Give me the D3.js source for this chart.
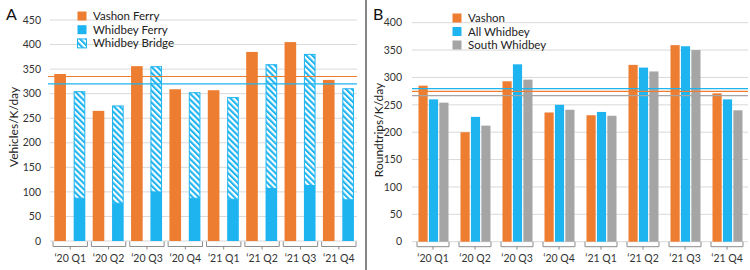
<!DOCTYPE html>
<html>
<head>
<meta charset="utf-8">
<script src="https://cdn.jsdelivr.net/npm/d3@7"></script>
<style>
  body { margin: 0; background: #fff; }
  svg { display: block; font-family: Lato, "Open Sans", sans-serif; }
</style>
</head>
<body>
<div id="graph"></div>
<script>
const width = 750
const height = 270

const quarters = ['‘20 Q1', '‘20 Q2', '‘20 Q3', '‘20 Q4', '‘21 Q1', '‘21 Q2', '‘21 Q3', '‘21 Q4']

// panel A: vehicles / K / day
const vashonFerry = [340, 265, 356, 309, 307, 385, 405, 328]
const whidbeyFerry = [87, 77, 100, 87, 85, 107, 113, 84]
const whidbeyBridge = [218, 199, 256, 216, 208, 253, 268, 227]
const refLinesA = [335, 320]
const ticksA = [0, 50, 100, 150, 200, 250, 300, 350, 400, 450]

// panel B: roundtrips / K / day
const vashon = [285, 200, 293, 236, 231, 323, 359, 271]
const allWhidbey = [260, 228, 324, 250, 237, 318, 357, 260]
const southWhidbey = [254, 212, 296, 241, 230, 311, 350, 240]
const refLinesB = [274.7, 279.5, 266.7]
const ticksB = [0, 50, 100, 150, 200, 250, 300, 350, 400]

const orange = '#ed7d31'
const blue = '#1eb4f0'
const gray = '#a5a5a5'
const grid = '#d9d9d9'

const svg = d3.select('#graph')
  .append('svg')
  .attr('width', width)
  .attr('height', height)

const defs = svg.append('defs')
const hatch = defs.append('pattern')
  .attr('id', 'hatch')
  .attr('patternUnits', 'userSpaceOnUse')
  .attr('width', 4.2)
  .attr('height', 4.2)
  .attr('patternTransform', 'rotate(-45)')
hatch.append('rect').attr('width', 4.2).attr('height', 4.2).attr('fill', '#fff')
hatch.append('rect').attr('width', 2.1).attr('height', 4.2).attr('fill', blue)

// shared bits
const drawGrid = (g, y, ticks, x0, x1, labelX) => {
  g.selectAll('line.grid')
    .data(ticks)
    .join('line')
    .attr('class', 'grid')
    .attr('x1', x0).attr('x2', x1)
    .attr('y1', (d) => y(d)).attr('y2', (d) => y(d))
    .attr('stroke', grid)
    .attr('stroke-width', 1)
  g.selectAll('text.tick')
    .data(ticks)
    .join('text')
    .attr('class', 'tick')
    .attr('x', labelX)
    .attr('y', (d) => y(d))
    .attr('dy', '0.35em')
    .attr('text-anchor', 'end')
    .attr('font-size', 10.5)
    .attr('fill', '#333')
    .text((d) => d)
}

const drawBrackets = (g, x, inset, y0) => {
  const b = g.selectAll('g.bracket')
    .data(quarters)
    .join('g')
    .attr('class', 'bracket')
  b.append('path')
    .attr('d', (d) => {
      const l = x(d) + inset
      const r = x(d) + x.bandwidth() - inset
      return `M${l},${y0}V${y0 + 5}H${r}V${y0}`
    })
    .attr('fill', 'none')
    .attr('stroke', '#8c8c8c')
    .attr('stroke-width', 1)
  b.append('line')
    .attr('x1', (d) => x(d) + x.bandwidth() / 2)
    .attr('x2', (d) => x(d) + x.bandwidth() / 2)
    .attr('y1', y0 + 5).attr('y2', y0 + 8)
    .attr('stroke', '#8c8c8c')
  b.append('text')
    .attr('x', (d) => x(d) + x.bandwidth() / 2)
    .attr('y', 262)
    .attr('text-anchor', 'middle')
    .attr('font-size', 10.5)
    .attr('fill', '#333')
    .text((d) => d)
}

const drawLegend = (g, items, x0, y0, dy) => {
  const row = g.selectAll('g.leg')
    .data(items)
    .join('g')
    .attr('class', 'leg')
    .attr('transform', (d, i) => `translate(${x0},${y0 + i * dy})`)
  row.append('rect')
    .attr('x', 0.5).attr('y', -4.5)
    .attr('width', 9).attr('height', 9)
    .attr('fill', (d) => d.fill)
    .attr('stroke', (d) => d.stroke || 'none')
  row.append('text')
    .attr('x', 16)
    .attr('dy', '0.35em')
    .attr('font-size', 11.5)
    .attr('fill', '#222')
    .text((d) => d.name)
}

// ---------- panel A ----------
const xA = d3.scaleBand().domain(quarters).range([51, 358])
const subA = d3.scaleBand().domain(['v', 'w']).range([3.3, 34.3]).paddingInner(0.4)
const yA = d3.scaleLinear().domain([0, 450]).range([241, 20])
const gA = svg.append('g')

drawGrid(gA, yA, ticksA, 50, 357, 41)

gA.selectAll('rect.vash')
  .data(vashonFerry)
  .join('rect')
  .attr('class', 'vash')
  .attr('x', (d, i) => xA(quarters[i]) + subA('v'))
  .attr('width', subA.bandwidth())
  .attr('y', (d) => yA(d))
  .attr('height', (d) => yA(0) - yA(d))
  .attr('fill', orange)

gA.selectAll('rect.wf')
  .data(whidbeyFerry)
  .join('rect')
  .attr('class', 'wf')
  .attr('x', (d, i) => xA(quarters[i]) + subA('w'))
  .attr('width', subA.bandwidth())
  .attr('y', (d) => yA(d))
  .attr('height', (d) => yA(0) - yA(d))
  .attr('fill', blue)

gA.selectAll('rect.wb')
  .data(whidbeyBridge)
  .join('rect')
  .attr('class', 'wb')
  .attr('x', (d, i) => xA(quarters[i]) + subA('w') + 0.5)
  .attr('width', subA.bandwidth() - 1)
  .attr('y', (d, i) => yA(d + whidbeyFerry[i]) + 0.5)
  .attr('height', (d, i) => yA(whidbeyFerry[i]) - yA(d + whidbeyFerry[i]) - 0.5)
  .attr('fill', 'url(#hatch)')
  .attr('stroke', blue)
  .attr('stroke-width', 1)

gA.selectAll('line.ref')
  .data(refLinesA)
  .join('line')
  .attr('class', 'ref')
  .attr('x1', 48).attr('x2', 357)
  .attr('y1', (d) => yA(d)).attr('y2', (d) => yA(d))
  .attr('stroke', (d, i) => [orange, blue][i])
  .attr('stroke-width', 1.2)

drawBrackets(gA, xA, 2, 241.5)

drawLegend(gA, [
  {name: 'Vashon Ferry', fill: orange},
  {name: 'Whidbey Ferry', fill: blue},
  {name: 'Whidbey Bridge', fill: 'url(#hatch)', stroke: blue}
], 77, 16, 13.7)

gA.append('text')
  .attr('transform', 'translate(18,127) rotate(-90)')
  .attr('text-anchor', 'middle')
  .attr('font-size', 12)
  .attr('fill', '#222')
  .text('Vehicles/K/day')

gA.append('text')
  .attr('x', 6).attr('y', 20)
  .attr('font-size', 16)
  .attr('fill', '#111')
  .text('A')

// ---------- panel B ----------
const xB = d3.scaleBand().domain(quarters).range([412, 748])
const subB = d3.scaleBand().domain(['v', 'a', 's']).range([6.5, 36.5]).paddingInner(0.12)
const yB = d3.scaleLinear().domain([0, 400]).range([241.7, 22.7])
const gB = svg.append('g')

drawGrid(gB, yB, ticksB, 412, 748, 402)

const seriesB = [
  {key: 'v', values: vashon, color: orange},
  {key: 'a', values: allWhidbey, color: blue},
  {key: 's', values: southWhidbey, color: gray}
]

seriesB.forEach((s) => {
  gB.selectAll(`rect.b${s.key}`)
    .data(s.values)
    .join('rect')
    .attr('class', `b${s.key}`)
    .attr('x', (d, i) => xB(quarters[i]) + subB(s.key))
    .attr('width', subB.bandwidth())
    .attr('y', (d) => yB(d))
    .attr('height', (d) => yB(0) - yB(d))
    .attr('fill', s.color)
})

gB.selectAll('line.ref')
  .data(refLinesB)
  .join('line')
  .attr('class', 'ref')
  .attr('x1', 412).attr('x2', 748)
  .attr('y1', (d) => yB(d)).attr('y2', (d) => yB(d))
  .attr('stroke', (d, i) => [orange, blue, gray][i])
  .attr('stroke-width', 1.2)

drawBrackets(gB, xB, 5, 241.7)

drawLegend(gB, seriesB.map((s, i) => ({
  name: ['Vashon', 'All Whidbey', 'South Whidbey'][i],
  fill: s.color
})), 452, 18, 13.5)

gB.append('text')
  .attr('transform', 'translate(383,130) rotate(-90)')
  .attr('text-anchor', 'middle')
  .attr('font-size', 12)
  .attr('fill', '#222')
  .text('Roundtrips/K/day')

gB.append('text')
  .attr('x', 373).attr('y', 20)
  .attr('font-size', 16)
  .attr('fill', '#111')
  .text('B')

// divider between panels
svg.append('line')
  .attr('x1', 366).attr('x2', 366)
  .attr('y1', 0).attr('y2', height)
  .attr('stroke', '#444')
  .attr('stroke-width', 1.3)
</script>
</body>
</html>
